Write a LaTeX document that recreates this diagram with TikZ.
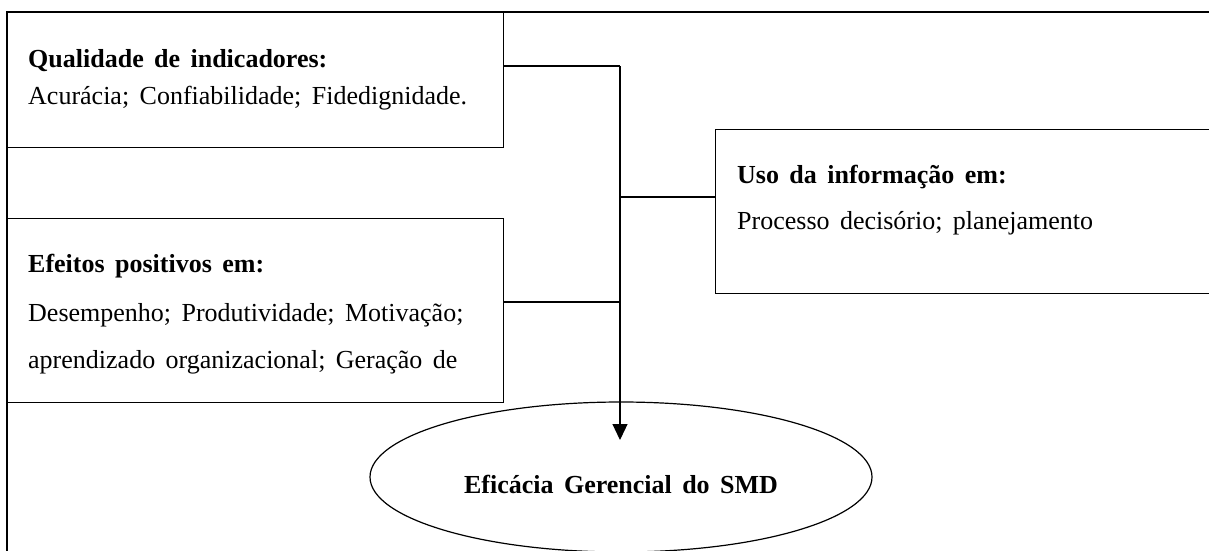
\documentclass[tikz,border=0pt]{standalone}
\usepackage{fontspec}
\setmainfont[WordSpace=1.6]{Liberation Serif}
\usetikzlibrary{arrows.meta,shapes.geometric}
\begin{document}
\begin{tikzpicture}[x=1pt,y=-1pt,
  box/.style={draw, line width=1.2pt, rectangle, inner sep=0pt, anchor=north west},
  txt/.style={anchor=base west, inner sep=0pt, font=\fontsize{26}{30}\selectfont},
  btxt/.style={txt, font=\fontsize{26}{30}\selectfont\bfseries},
  conn/.style={line width=1.2pt},
  tip/.style={-{Triangle[width=15pt,length=16pt]}}]
\useasboundingbox (0,0) rectangle (1209,550);
\clip (0,0) rectangle (1209,550);
% outer frame
\draw[line width=1.5pt] (1220,12) -- (7,12) -- (7,560);
% boxes
\node[box, minimum width=496pt, minimum height=135pt] (q) at (7,12) {};
\node[box, minimum width=496pt, minimum height=184pt] (ef) at (7,218) {};
\node[box, minimum width=520pt, minimum height=164pt] (u) at (715,129) {};
\node[draw, ellipse, line width=1.2pt, minimum width=502pt, minimum height=150pt, inner sep=0pt] (e) at (621,477) {};
% texts
\node[btxt] (q1) at (28,67) {Qualidade de indicadores:};
\node[txt] (q2) at (28,104) {Acurácia; Confiabilidade; Fidedignidade.};
\node[btxt] (f1) at (28,272) {Efeitos positivos em:};
\node[txt] (f2) at (28,321) {Desempenho; Produtividade; Motivação;};
\node[txt] (f3) at (28,368) {aprendizado organizacional; Geração de};
\node[btxt] (u1) at (737,183) {Uso da informação em:};
\node[txt] (u2) at (737,229) {Processo decisório; planejamento};
\node[btxt, anchor=base] (e1) at (621,493) {Eficácia Gerencial do SMD};
% connectors
\coordinate (jt) at (620,66);
\coordinate (ju) at (620,197);
\coordinate (jf) at (620,302);
\coordinate (at) at (620,440);
\draw[conn] (q.east |- jt) -- (jt);
\draw[conn] (ef.east |- jf) -- (jf);
\draw[conn] (ju) -- (u.west |- ju);
\draw[conn, tip] (jt) -- (at);
\end{tikzpicture}
\end{document}
